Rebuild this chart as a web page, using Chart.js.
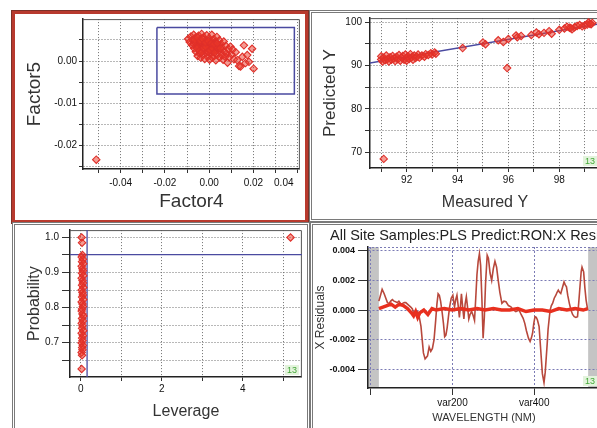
<!DOCTYPE html>
<html>
<head>
<meta charset="utf-8">
<title>PLS predict diagnostics</title>
<script src="https://cdn.jsdelivr.net/npm/chart.js@4.4.1/dist/chart.umd.min.js"></script>
<style>
    html, body { margin: 0; padding: 0; background: #fff; overflow: hidden; }
    body { position: relative; width: 597px; height: 428px; }
    .panel { position: absolute; box-sizing: border-box; background: #fff; }
    .panel canvas { display: block; }
    #scoresPanel { left: 12px; top: 11px; width: 296px; height: 212px; border: 3px solid #b83a2e; box-shadow: 0 0 0 1px #7d3128; }
    #predPanel { left: 309px; top: 10px; width: 303px; height: 212px; border: 3px double #7a7a7a; }
    #probPanel { left: 12px; top: 222px; width: 298px; height: 213px; border: 3px double #7a7a7a; }
    #residPanel { left: 310px; top: 222px; width: 303px; height: 213px; border: 3px double #7a7a7a; }
    #residTitle { position: absolute; left: 17px; top: 2px; line-height: 16px; font-size: 14.5px; color: #222; white-space: nowrap;
                  font-family: 'Liberation Sans', Arial, sans-serif; }
</style>
</head>
<body>
<div class="panel" id="scoresPanel"><canvas id="scoresChart" width="290" height="206"></canvas></div>
<div class="panel" id="predPanel"><canvas id="predChart" width="297" height="206"></canvas></div>
<div class="panel" id="probPanel"><canvas id="probChart" width="292" height="207"></canvas></div>
<div class="panel" id="residPanel">
    <canvas id="residChart" width="297" height="207"></canvas>
    <div id="residTitle">All Site Samples:PLS Predict:RON:X Residuals</div>
</div>
<script>
'use strict';

// scores plot (Factor4 vs Factor5)
const factor4Scores = [
    -0.0095, -0.0088, -0.0082, -0.0078, -0.0075, -0.0070, -0.0068, -0.0065, -0.0062, -0.0060,
    -0.0058, -0.0055, -0.0052, -0.0050, -0.0048, -0.0045, -0.0043, -0.0040, -0.0038, -0.0036,
    -0.0034, -0.0031, -0.0029, -0.0027, -0.0025, -0.0022, -0.0020, -0.0018, -0.0016, -0.0013,
    -0.0011, -0.0009, -0.0006, -0.0004, -0.0002, 0.0000, 0.0002, 0.0004, 0.0006, 0.0008,
    0.0010, 0.0012, 0.0014, 0.0016, 0.0018, 0.0021, 0.0023, 0.0025, 0.0028, 0.0030,
    0.0032, 0.0035, 0.0037, 0.0040, 0.0043, 0.0046, 0.0048, 0.0051, 0.0054, 0.0057,
    0.0060, 0.0063, 0.0066, 0.0069, 0.0072, 0.0075, 0.0079, 0.0083, 0.0087, 0.0091,
    0.0096, 0.0101, 0.0106, 0.0112, 0.0120, 0.0127, 0.0135, 0.0142, 0.0150, 0.0157,
    0.0164, 0.0172, 0.0180, 0.0194, 0.0201, -0.0510,
    -0.0070, -0.0060, -0.0050, -0.0040, -0.0030, -0.0020, -0.0010, 0.0000, 0.0010, 0.0020,
    -0.0055, -0.0045, -0.0035, -0.0025, -0.0015, -0.0005, 0.0005, 0.0015, 0.0025, 0.0035,
    -0.0065, -0.0052, -0.0041, -0.0030, -0.0017, -0.0004, 0.0009, 0.0022, 0.0036, 0.0050
];
const factor5Scores = [
    0.0052, 0.0045, 0.0058, 0.0038, 0.0050, 0.0062, 0.0030, 0.0044, 0.0055, 0.0022,
    0.0036, 0.0048, 0.0012, 0.0028, 0.0060, 0.0041, 0.0018, 0.0052, 0.0008, 0.0033,
    0.0064, 0.0024, 0.0046, 0.0014, 0.0056, 0.0038, 0.0005, 0.0027, 0.0049, 0.0019,
    0.0061, 0.0035, 0.0010, 0.0044, 0.0026, 0.0054, 0.0003, 0.0038, 0.0017, 0.0048,
    0.0030, 0.0062, 0.0008, 0.0041, 0.0022, 0.0052, 0.0012, 0.0034, 0.0045, 0.0002,
    0.0026, 0.0057, 0.0015, 0.0038, 0.0029, 0.0049, 0.0008, 0.0021, 0.0040, 0.0014,
    0.0031, 0.0003, 0.0046, 0.0022, 0.0010, 0.0036, 0.0018, -0.0004, 0.0028, 0.0009,
    0.0034, 0.0016, 0.0027, 0.0004, 0.0021, 0.0002, -0.0012, -0.0013, 0.0010, 0.0037,
    -0.0005, 0.0014, -0.0002, 0.0029, -0.0018, -0.0233,
    0.0040, 0.0042, 0.0035, 0.0045, 0.0030, 0.0043, 0.0040, 0.0032, 0.0036, 0.0028,
    0.0030, 0.0024, 0.0020, 0.0030, 0.0033, 0.0022, 0.0025, 0.0030, 0.0020, 0.0032,
    0.0050, 0.0055, 0.0048, 0.0052, 0.0044, 0.0047, 0.0042, 0.0040, 0.0042, 0.0030
];
const scoreLimitsF4 = [-0.0236, 0.0385];
const scoreLimitsF5 = [-0.0078, 0.0079];
const factor4Range = [-0.057, 0.041];
const factor5Range = [-0.0255, 0.0099];
const factor4Ticks = [-0.05, -0.04, -0.03, -0.02, -0.01, 0, 0.01, 0.02, 0.03, 0.04];
const factor4TickLabels = ['', '-0.04', '', '-0.02', '', '0.00', '', '0.02', '', '0.04'];
const factor5Ticks = [-0.025, -0.02, -0.015, -0.01, -0.005, 0, 0.005];
const factor5TickLabels = ['', '-0.02', '', '-0.01', '', '0.00', ''];

// predicted vs measured
const measuredY = [
    91.00, 91.00, 91.05, 91.10, 91.15, 91.20, 91.25, 91.30, 91.35, 91.40,
    91.45, 91.50, 91.55, 91.60, 91.65, 91.70, 91.75, 91.80, 91.85, 91.90,
    91.95, 92.00, 92.00, 92.05, 92.10, 92.15, 92.20, 92.25, 92.30, 92.35,
    92.40, 92.45, 92.50, 92.60, 92.70, 92.75, 92.85, 92.95, 93.00, 93.10,
    93.15, 94.20, 95.00, 95.10, 95.60, 95.80, 96.00, 96.30, 96.35, 96.50,
    96.90, 97.10, 97.20, 97.40, 97.60, 97.70, 98.00, 98.20, 98.40, 98.50,
    98.60, 98.70, 98.90, 99.00, 99.10, 99.20, 99.30, 98.30, 98.80, 99.15,
    98.45, 99.25, 95.95, 91.10
];
const predictedY = [
    91.4, 92.1, 90.9, 91.8, 91.2, 92.3, 91.5, 90.9, 91.9, 91.3,
    92.2, 91.6, 91.0, 92.0, 91.4, 92.4, 91.1, 91.8, 92.2, 91.3,
    92.5, 91.7, 91.1, 92.1, 91.5, 92.6, 91.9, 91.3, 92.3, 91.7,
    92.0, 92.5, 91.8, 92.3, 92.0, 92.6, 92.4, 92.8, 92.5, 93.0,
    92.7, 94.0, 95.3, 94.9, 95.8, 95.4, 96.1, 96.9, 96.5, 96.8,
    97.0, 97.6, 97.2, 97.5, 97.9, 97.3, 98.2, 98.5, 98.7, 98.3,
    98.8, 99.1, 99.0, 99.2, 99.4, 99.6, 99.8, 98.9, 99.3, 99.9,
    98.6, 99.5, 89.4, 68.5
];
const fitLineMeasured = [90.5, 100];
const fitLinePredicted = [90.5, 100];
const measuredRange = [90.56, 99.6];
const predictedRange = [66.4, 100.9];
const measuredTicks = [91, 92, 93, 94, 95, 96, 97, 98, 99];
const measuredTickLabels = ['', '92', '', '94', '', '96', '', '98', ''];
const predictedTicks = [70, 75, 80, 85, 90, 95, 100];
const predictedTickLabels = ['70', '', '80', '', '90', '', '100'];

// probability vs leverage
const leverage = [
    0.02, 0.03, 0.04, 0.02, 0.05, 0.03, 0.06, 0.02, 0.04, 0.05,
    0.03, 0.06, 0.02, 0.04, 0.05, 0.03, 0.06, 0.02, 0.04, 0.05,
    0.03, 0.06, 0.02, 0.04, 0.05, 0.03, 0.02, 0.04, 0.06, 0.03,
    0.05, 0.02, 0.04, 0.03, 0.06, 0.02, 0.05, 0.03, 0.04, 0.02,
    0.05, 0.03, 0.04, 0.02, 0.03, 0.02, 5.18
];
const probability = [
    1.000, 0.985, 0.950, 0.944, 0.938, 0.931, 0.925, 0.918, 0.911, 0.905,
    0.898, 0.891, 0.884, 0.877, 0.870, 0.864, 0.857, 0.850, 0.843, 0.836,
    0.830, 0.823, 0.816, 0.810, 0.803, 0.796, 0.790, 0.782, 0.776, 0.769,
    0.762, 0.755, 0.748, 0.741, 0.734, 0.727, 0.720, 0.713, 0.706, 0.699,
    0.692, 0.686, 0.680, 0.672, 0.664, 0.625, 1.000
];
const probabilityLimit = 0.951;
const leverageLimit = 0.154;
const leverageRange = [-0.268, 5.46];
const probabilityRange = [0.602, 1.021];
const leverageTicks = [0, 1, 2, 3, 4, 5];
const leverageTickLabels = ['0', '', '2', '', '4', ''];
const probabilityTicks = [0.65, 0.70, 0.75, 0.80, 0.85, 0.90, 0.95, 1.00];
const probabilityTickLabels = ['', '0.7', '', '0.8', '', '0.9', '', '1.0'];

// x residuals per variable
const residVars = [
    20, 24, 28, 33, 37, 41, 45, 49, 53, 57,
    61, 65, 69, 74, 78, 82, 86, 90, 94, 98,
    102, 106, 110, 115, 119, 123, 126, 129, 133, 136,
    139, 143, 147, 151, 155, 159, 162, 165, 168, 171,
    175, 178, 181, 184, 187, 190, 193, 197, 201, 205,
    208, 211, 214, 217, 220, 222, 225, 228, 231, 234,
    237, 240, 243, 247, 251, 254, 257, 260, 263, 266,
    269, 272, 275, 278, 281, 285, 288, 292, 296, 300,
    304, 308, 312, 316, 321, 326, 331, 337, 343, 349,
    355, 363, 368, 373, 377, 381, 386, 390, 393, 396,
    399, 402, 405, 408, 412, 416, 420, 424, 427, 429,
    432, 434, 437, 439, 442, 445, 449, 453, 456, 459,
    462, 465, 469, 473, 476, 479, 482, 486, 490, 494,
    498, 502, 506, 509, 512, 515, 517, 521, 524, 527,
    531
];
const residOutlier = [
    0.0006, 0.0010, 0.0014, 0.0011, 0.0008, 0.0005, 0.00045, 0.0006, 0.0007, 0.0006,
    0.00056, 0.0005, 0.0006, 0.0004, 0.00045, 0.0005, 0.0005, 0.0004, 0.0003, 0.0002,
    0.00007, -0.00034, -0.0002, -0.00011, -0.0005, -0.0011, -0.0020, -0.0029, -0.0033, -0.0032,
    -0.0031, -0.0025, -0.0028, -0.0026, -0.0020, -0.0007, 0.0004, 0.0011, 0.0010, 0.0006,
    -0.0002, -0.0009, -0.0018, -0.0017, -0.0012, -0.0005, 0.0002, 0.0008, 0.0010, 0.0002,
    0.0007, 0.0010, 0.0003, -0.0005, 0.0004, 0.0011, 0.0002, -0.0006, 0.0004, 0.0009,
    0.0002, -0.0006, -0.0003, -0.0001, -0.0004, -0.0007, 0.0008, 0.0024, 0.0033, 0.0038,
    0.0030, 0.0008, -0.0019, -0.0005, 0.0018, 0.0037, 0.0035, 0.0025, 0.0020, 0.0028,
    0.0033, 0.0029, 0.0020, 0.0012, 0.00045, 0.0006, 0.00056, 0.0003, 0.00022, 0.0000,
    -0.00011, 0.0000, -0.0003, -0.00056, -0.0009, -0.0014, -0.0019, -0.00213, -0.0019, -0.00157,
    -0.0009, -0.00045, -0.0005, -0.00067, -0.00112, -0.0027, -0.0043, -0.0049, -0.0042, -0.0034,
    -0.0022, -0.0013, -0.0005, 0.0000, 0.0003, 0.00045, 0.0008, 0.0010, 0.0012, 0.00135,
    0.0012, 0.00112, 0.0015, 0.0019, 0.0017, 0.00157, 0.0010, 0.00045, 0.0000, -0.0003,
    -0.00045, -0.0005, -0.00045, 0.0005, 0.00157, 0.0026, 0.0029, 0.00258, 0.0015, 0.00067,
    0.0000
];
const siteVars = [
    20, 30, 40, 50, 60, 70, 80, 90, 100, 105, 110, 115, 120, 130, 140, 150, 160, 180,
    200, 220, 240, 260, 280, 300, 320, 340, 360, 380, 400, 420, 440, 460, 480, 500, 520, 531
];
const siteResid = [
    0.0001, 0.0002, 0.0003, 0.0004, 0.0002, 0.0004, 0.0003, 0.0001, -0.0002, -0.0004,
    -0.0001, -0.0005, -0.0002, 0.0000, -0.0003, 0.0001, 0.0000, 0.0001,
    0.0000, 0.0001, 0.0000, 0.0001, 0.0000, 0.0001, 0.0000, 0.0000, 0.0001, -0.0001,
    0.0000, 0.0000, -0.0001, 0.0001, 0.0000, 0.0001, 0.0000, 0.0001
];
const excludedVars = [[-7, 20], [532, 561]];
const varRange = [-6.6, 561];
const residRange = [-0.00527, 0.00426];
const varTicks = [0, 200, 400];
const varTickLabels = ['', 'var200', 'var400'];
const residTicks = [-0.004, -0.002, 0, 0.002, 0.004];
const residTickLabels = ['-0.004', '-0.002', '0.000', '0.002', '0.004'];

const sampleTag = '13';
const fontFamily = "'Liberation Sans', Arial, sans-serif";
const limitColor = '#4a4aa0';

Chart.defaults.font.family = fontFamily;

const markerStyle = {
    pointStyle: 'rectRot',
    pointRadius: 3.7,
    borderWidth: 1.1,
    borderColor: '#e0302a',
    backgroundColor: 'rgba(236, 55, 40, 0.5)'
};

// top and right edges of the plot box
const plotFrame = {
    id: 'plotFrame',
    beforeDatasetsDraw(chart, args, opts) {
        const a = chart.chartArea, ctx = chart.ctx;
        ctx.save();
        ctx.strokeStyle = opts.color || '#555';
        ctx.lineWidth = 1;
        ctx.setLineDash(opts.dash || []);
        ctx.beginPath();
        ctx.moveTo(a.left, a.top + 0.5);
        ctx.lineTo(a.right - 0.5, a.top + 0.5);
        ctx.lineTo(a.right - 0.5, a.bottom);
        ctx.stroke();
        ctx.restore();
    }
};

// grey bands over the variables left out of the model
const excludedBands = {
    id: 'excludedBands',
    beforeDraw(chart, args, opts) {
        const xs = chart.scales.x, a = chart.chartArea, ctx = chart.ctx;
        ctx.save();
        ctx.fillStyle = opts.color;
        opts.ranges.forEach(r => {
            const x1 = Math.max(xs.getPixelForValue(r[0]), a.left);
            const x2 = Math.min(xs.getPixelForValue(r[1]), a.right);
            ctx.fillRect(x1, a.top, x2 - x1, a.bottom - a.top);
        });
        ctx.restore();
    }
};

// small green sample-count tag in the lower right corner
const cornerTag = {
    id: 'cornerTag',
    afterDraw(chart, args, opts) {
        const a = chart.chartArea, ctx = chart.ctx;
        ctx.save();
        ctx.font = '9px ' + fontFamily;
        const w = ctx.measureText(opts.text).width + 4;
        ctx.fillStyle = '#e3f3dc';
        ctx.fillRect(a.right - w - 3, a.bottom - 12, w, 10);
        ctx.fillStyle = '#45a83a';
        ctx.textAlign = 'right';
        ctx.textBaseline = 'bottom';
        ctx.fillText(opts.text, a.right - 5, a.bottom - 2);
        ctx.restore();
    }
};

function axisOptions(o) {
    const vertical = o.position === 'left';
    return {
        type: 'linear',
        position: o.position,
        min: o.range[0],
        max: o.range[1],
        bounds: 'data',
        afterBuildTicks: axis => {
            axis.ticks = o.ticks.map(v => ({ value: v }));
        },
        afterFit: axis => {
            if (vertical) {
                axis.width = o.size;
            } else {
                axis.height = o.size;
            }
            axis.paddingLeft = axis.paddingRight = axis.paddingTop = axis.paddingBottom = 0;
        },
        ticks: {
            autoSkip: false,
            maxRotation: 0,
            minRotation: 0,
            padding: o.tickPadding,
            color: '#111',
            font: { size: o.tickSize || 10, weight: o.tickWeight || 'normal' },
            callback: (v, i) => o.labels[i]
        },
        grid: {
            color: o.gridColor || '#707070',
            lineWidth: 1,
            tickLength: o.tickLength,
            tickColor: '#333'
        },
        border: { color: '#222', width: 1.5, dash: o.dash || [1, 2] },
        title: {
            display: true,
            text: o.title,
            color: '#333',
            font: { size: o.titleSize, family: o.titleFamily || fontFamily },
            padding: o.titlePadding
        }
    };
}

function baseOptions(padding, scales, extra) {
    return {
        responsive: false,
        animation: false,
        events: [],
        layout: { padding: padding },
        plugins: Object.assign({ legend: { display: false }, tooltip: { enabled: false } }, extra || {}),
        scales: scales
    };
}

function toPoints(xs, ys) {
    return xs.map((x, i) => ({ x: x, y: ys[i] }));
}

function buildScoresChart() {
    const box = toPoints(
        [scoreLimitsF4[0], scoreLimitsF4[1], scoreLimitsF4[1], scoreLimitsF4[0], scoreLimitsF4[0]],
        [scoreLimitsF5[1], scoreLimitsF5[1], scoreLimitsF5[0], scoreLimitsF5[0], scoreLimitsF5[1]]
    );

    new Chart(document.getElementById('scoresChart'), {
        type: 'scatter',
        data: {
            datasets: [
                Object.assign({ data: toPoints(factor4Scores, factor5Scores), order: 1 }, markerStyle),
                { data: box, showLine: true, borderColor: limitColor, borderWidth: 1.5, pointRadius: 0, order: 2 }
            ]
        },
        options: baseOptions({ left: 0, top: 2, right: 3, bottom: 0 }, {
            x: axisOptions({
                position: 'bottom', range: factor4Range, ticks: factor4Ticks,
                // last label is pulled back inside the frame, as in the original
                labels: factor4TickLabels.map((l, i) => i === factor4TickLabels.length - 1 ? l + '\u2007\u2007\u2007\u2007\u2007' : l),
                size: 51, tickLength: 4, tickPadding: 4,
                title: 'Factor4', titleSize: 19, titlePadding: { top: 0, bottom: 7 }
            }),
            y: axisOptions({
                position: 'left', range: factor5Range, ticks: factor5Ticks, labels: factor5TickLabels,
                size: 68, tickLength: 4, tickPadding: 2,
                title: 'Factor5', titleSize: 19, titlePadding: { top: 8.6, bottom: 0 }
            })
        }, { plotFrame: { color: '#555' } }),
        plugins: [plotFrame]
    });
}

function buildPredChart() {
    new Chart(document.getElementById('predChart'), {
        type: 'scatter',
        data: {
            datasets: [
                Object.assign({ data: toPoints(measuredY, predictedY), order: 1 }, markerStyle),
                {
                    data: toPoints(fitLineMeasured, fitLinePredicted), showLine: true,
                    borderColor: limitColor, borderWidth: 1.3, pointRadius: 0, order: 2
                }
            ]
        },
        options: baseOptions({ left: 0, top: 5, right: 9, bottom: 0 }, {
            x: axisOptions({
                position: 'bottom', range: measuredRange, ticks: measuredTicks, labels: measuredTickLabels,
                size: 51, tickLength: 4, tickPadding: 2,
                title: 'Measured Y', titleSize: 16, titlePadding: { top: 0, bottom: 7 }
            }),
            y: axisOptions({
                position: 'left', range: predictedRange, ticks: predictedTicks, labels: predictedTickLabels,
                size: 58, tickLength: 5, tickPadding: 3,
                title: 'Predicted Y', titleSize: 17, titlePadding: { top: 8.5, bottom: 0 }
            })
        }, { plotFrame: { color: '#555' }, cornerTag: { text: sampleTag } }),
        plugins: [plotFrame, cornerTag]
    });
}

function buildProbChart() {
    new Chart(document.getElementById('probChart'), {
        type: 'scatter',
        data: {
            datasets: [
                Object.assign({ data: toPoints(leverage, probability), order: 1 }, markerStyle),
                {
                    data: toPoints(leverageRange, [probabilityLimit, probabilityLimit]), showLine: true,
                    borderColor: limitColor, borderWidth: 1.3, pointRadius: 0, order: 2
                },
                {
                    data: toPoints([leverageLimit, leverageLimit], probabilityRange), showLine: true,
                    borderColor: limitColor, borderWidth: 1.3, pointRadius: 0, order: 2
                }
            ]
        },
        options: baseOptions({ left: 0, top: 3, right: 2, bottom: 0 }, {
            x: axisOptions({
                position: 'bottom', range: leverageRange, ticks: leverageTicks, labels: leverageTickLabels,
                size: 55, tickLength: 4, tickPadding: 2,
                title: 'Leverage', titleSize: 16, titlePadding: { top: 0, bottom: 10.7 }
            }),
            y: axisOptions({
                position: 'left', range: probabilityRange, ticks: probabilityTicks, labels: probabilityTickLabels,
                size: 55, tickLength: 8, tickPadding: 3,
                title: 'Probability', titleSize: 16, titlePadding: { top: 10.4, bottom: 0 }
            })
        }, { plotFrame: { color: '#555' }, cornerTag: { text: sampleTag } }),
        plugins: [plotFrame, cornerTag]
    });
}

function buildResidChart() {
    const gridBlue = '#7b7bb5';

    new Chart(document.getElementById('residChart'), {
        type: 'scatter',
        data: {
            datasets: [
                {
                    data: toPoints(siteVars, siteResid), showLine: true,
                    borderColor: '#e8301f', borderWidth: 3.4, pointRadius: 0, order: 0
                },
                {
                    data: toPoints(residVars, residOutlier), showLine: true,
                    borderColor: '#b8483c', borderWidth: 1.6, pointRadius: 0, order: 1
                }
            ]
        },
        options: baseOptions({ left: 0, top: 22, right: 10, bottom: 0 }, {
            x: axisOptions({
                position: 'bottom', range: varRange, ticks: varTicks, labels: varTickLabels,
                size: 44, tickLength: 7, tickPadding: 2, tickSize: 10, gridColor: gridBlue, dash: [2, 2],
                title: 'WAVELENGTH (NM)', titleSize: 11,
                titleFamily: "'Liberation Sans Narrow', 'Arial Narrow', 'Liberation Sans', sans-serif",
                titlePadding: { top: 0, bottom: 7.4 }
            }),
            y: axisOptions({
                position: 'left', range: residRange, ticks: residTicks, labels: residTickLabels,
                size: 55, tickLength: 10, tickPadding: 3, tickSize: 9, tickWeight: 'bold', gridColor: gridBlue, dash: [2, 2],
                title: 'X Residuals', titleSize: 12, titlePadding: { top: 0, bottom: 0 }
            })
        }, {
            plotFrame: { color: gridBlue, dash: [2, 2] },
            excludedBands: { ranges: excludedVars, color: '#c4c4c4' },
            cornerTag: { text: sampleTag }
        }),
        plugins: [excludedBands, plotFrame, cornerTag]
    });
}

buildScoresChart();
buildPredChart();
buildProbChart();
buildResidChart();
</script>
</body>
</html>
